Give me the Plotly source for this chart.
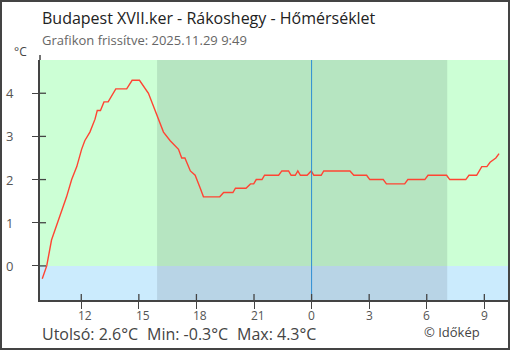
import plotly.graph_objects as go

# ---- data ----
times = [
    "2025-11-28 09:58", "2025-11-28 10:12", "2025-11-28 10:27", "2025-11-28 10:46",
    "2025-11-28 10:59", "2025-11-28 11:14", "2025-11-28 11:30", "2025-11-28 11:46",
    "2025-11-28 12:01", "2025-11-28 12:11", "2025-11-28 12:27", "2025-11-28 12:43",
    "2025-11-28 12:50", "2025-11-28 13:00", "2025-11-28 13:11", "2025-11-28 13:24",
    "2025-11-28 13:48", "2025-11-28 14:22", "2025-11-28 14:39", "2025-11-28 15:02",
    "2025-11-28 15:30", "2025-11-28 15:51", "2025-11-28 16:17", "2025-11-28 16:38",
    "2025-11-28 17:04", "2025-11-28 17:14", "2025-11-28 17:24", "2025-11-28 17:41",
    "2025-11-28 17:56", "2025-11-28 18:12", "2025-11-28 18:22", "2025-11-28 19:13",
    "2025-11-28 19:25", "2025-11-28 19:54", "2025-11-28 20:02", "2025-11-28 20:35",
    "2025-11-28 20:49", "2025-11-28 20:59", "2025-11-28 21:07", "2025-11-28 21:25",
    "2025-11-28 21:33", "2025-11-28 22:17", "2025-11-28 22:27", "2025-11-28 22:48",
    "2025-11-28 22:56", "2025-11-28 23:09", "2025-11-28 23:17", "2025-11-28 23:25",
    "2025-11-28 23:46", "2025-11-28 23:59",
    "2025-11-29 00:07", "2025-11-29 00:30", "2025-11-29 00:38", "2025-11-29 02:00",
    "2025-11-29 02:12", "2025-11-29 02:52", "2025-11-29 03:02", "2025-11-29 03:44",
    "2025-11-29 03:54", "2025-11-29 04:51", "2025-11-29 05:01", "2025-11-29 05:54",
    "2025-11-29 06:04", "2025-11-29 07:02", "2025-11-29 07:12", "2025-11-29 08:02",
    "2025-11-29 08:12", "2025-11-29 08:36", "2025-11-29 08:52", "2025-11-29 09:08",
    "2025-11-29 09:18", "2025-11-29 09:36", "2025-11-29 09:46",
]
temps = [
    -0.3, 0.0, 0.6, 1.0,
    1.3, 1.6, 2.0, 2.3,
    2.7, 2.9, 3.1, 3.4,
    3.6, 3.6, 3.8, 3.8,
    4.1, 4.1, 4.3, 4.3,
    4.0, 3.6, 3.1, 2.9,
    2.7, 2.5, 2.5, 2.2,
    2.1, 1.8, 1.6, 1.6,
    1.7, 1.7, 1.8, 1.8,
    1.9, 1.9, 2.0, 2.0,
    2.1, 2.1, 2.2, 2.2,
    2.1, 2.1, 2.2, 2.1,
    2.1, 2.2,
    2.1, 2.1, 2.2, 2.2,
    2.1, 2.1, 2.0, 2.0,
    1.9, 1.9, 2.0, 2.0,
    2.1, 2.1, 2.0, 2.0,
    2.1, 2.1, 2.3, 2.3,
    2.4, 2.5, 2.6,
]
x_ticks = [
    "2025-11-28 12:00", "2025-11-28 15:00", "2025-11-28 18:00", "2025-11-28 21:00",
    "2025-11-29 00:00", "2025-11-29 03:00", "2025-11-29 06:00", "2025-11-29 09:00",
]
x_tick_labels = ["12", "15", "18", "21", "0", "3", "6", "9"]
y_ticks = [0, 1, 2, 3, 4]
y_tick_labels = ["0", "1", "2", "3", "4"]
x_range = ["2025-11-28 09:51", "2025-11-29 10:14"]
y_range = [-0.79, 4.77]
sunset = "2025-11-28 15:57"
sunrise = "2025-11-29 07:04"
midnight = "2025-11-29 00:00"

title = "Budapest XVII.ker - Rákoshegy - Hőmérséklet"
subtitle = "Grafikon frissítve: 2025.11.29 9:49"
footer_parts = ["Utolsó: 2.6°C", "Min: -0.3°C", "Max: 4.3°C"]
footer_x = [40, 145, 235]
credit = "© Időkép"
unit = "°C"

# ---- layout geometry ----
W, H = 510, 350
L, R, T, B = 40, 2, 60, 50
PW, PH = W - L - R, H - T - B


def px(xp):
    return (xp - L) / PW


def py(yp):
    return 1 - (yp - T) / PH


FONT = "Open Sans"
AX = "#444"
LBL = "#555"
DAY_G, NIGHT_G = "#ccffd5", "#b6e5c1"
DAY_B, NIGHT_B = "#cbebfd", "#b8d4e6"

fig = go.Figure()
fig.add_trace(go.Scatter(
    x=times, y=temps, mode="lines",
    line=dict(color="#ff4433", width=1.4),
    hoverinfo="skip", showlegend=False,
))

shapes = [
    dict(type="rect", xref="paper", yref="y", x0=0, x1=1, y0=y_range[0], y1=0,
         fillcolor=DAY_B, line_width=0, layer="below"),
    dict(type="rect", xref="x", yref="y", x0=sunset, x1=sunrise, y0=0, y1=y_range[1],
         fillcolor=NIGHT_G, line_width=0, layer="below"),
    dict(type="rect", xref="x", yref="y", x0=sunset, x1=sunrise, y0=y_range[0], y1=0,
         fillcolor=NIGHT_B, line_width=0, layer="below"),
    dict(type="line", xref="x", yref="paper", x0=midnight, x1=midnight, y0=0, y1=1,
         line=dict(color="#2f8fd4", width=1), layer="above"),
    # y axis line extension above plot
    dict(type="line", xref="paper", yref="paper", x0=0, x1=0, y0=1, y1=py(55),
         line=dict(color=AX, width=1.5)),
    # outer frame
    dict(type="rect", xref="paper", yref="paper", x0=px(1), x1=px(W - 1),
         y0=py(H - 1), y1=py(1), line=dict(color=AX, width=2), fillcolor="rgba(0,0,0,0)"),
]
# inner halves of the tick marks (ticks cross the axis lines)
for tv in x_ticks:
    shapes.append(dict(type="line", xref="x", yref="paper", x0=tv, x1=tv, y0=0, y1=6 / PH,
                       line=dict(color=AX, width=1.3)))
for tv in y_ticks:
    shapes.append(dict(type="line", xref="paper", yref="y", x0=0, x1=6 / PW, y0=tv, y1=tv,
                       line=dict(color=AX, width=1.3)))

annotations = [
    dict(text=title, x=px(40), y=py(18), xref="paper", yref="paper", xanchor="left",
         yanchor="middle", showarrow=False, font=dict(family=FONT, size=16, color="#222")),
    dict(text=subtitle, x=px(40), y=py(40), xref="paper", yref="paper", xanchor="left",
         yanchor="middle", showarrow=False, font=dict(family=FONT, size=13, color="#666")),
    dict(text=unit, x=px(12), y=py(51.3), xref="paper", yref="paper", xanchor="left",
         yanchor="middle", showarrow=False, font=dict(family=FONT, size=12, color="#444")),
    dict(text=credit, x=px(482), y=py(331.5), xref="paper", yref="paper", xanchor="right",
         yanchor="middle", showarrow=False, font=dict(family=FONT, size=13, color="#444")),
]
for txt, xp in zip(footer_parts, footer_x):
    annotations.append(dict(text=txt, x=px(xp), y=py(334), xref="paper", yref="paper",
                            xanchor="left", yanchor="middle", showarrow=False,
                            font=dict(family=FONT, size=16, color="#444")))
# axis tick labels placed on the axes' own scales
for tv, tl in zip(x_ticks, x_tick_labels):
    annotations.append(dict(text=tl, x=tv, xref="x", y=py(315.5), yref="paper",
                            xanchor="center", yanchor="middle", showarrow=False,
                            xshift=4 * (len(tl) - 1),
                            font=dict(family=FONT, size=12, color=LBL)))
for tv, tl in zip(y_ticks, y_tick_labels):
    annotations.append(dict(text=tl, x=px(9.6), xref="paper", y=tv, yref="y",
                            xanchor="center", yanchor="middle", showarrow=False,
                            font=dict(family=FONT, size=13, color=LBL)))

fig.update_layout(
    width=W, height=H,
    margin=dict(l=L, r=R, t=T, b=B, pad=0),
    paper_bgcolor="white", plot_bgcolor=DAY_G,
    font=dict(family=FONT, size=12, color=LBL),
    shapes=shapes, annotations=annotations,
    xaxis=dict(
        type="date", range=x_range, tickvals=x_ticks, ticktext=x_tick_labels,
        showticklabels=False,
        ticks="outside", ticklen=7, tickwidth=1.3, tickcolor=AX,
        showline=True, linecolor=AX, linewidth=1.5, showgrid=False, zeroline=False,
        fixedrange=True,
    ),
    yaxis=dict(
        range=y_range, tickvals=y_ticks, ticktext=y_tick_labels, showticklabels=False,
        ticks="outside", ticklen=6, tickwidth=1.3,
        tickcolor=AX, showline=True, linecolor=AX, linewidth=1.5, showgrid=False,
        zeroline=False, fixedrange=True,
    ),
)

fig.write_html("out.html")
